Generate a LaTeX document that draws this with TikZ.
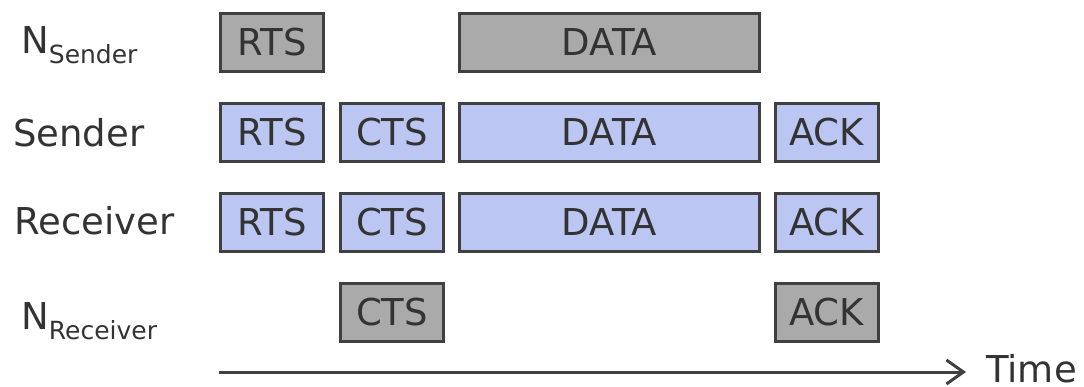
\documentclass[tikz,border=0pt]{standalone}
\usepackage{fontspec}
\setmainfont{DejaVu Sans}
\usetikzlibrary{arrows.meta}
\definecolor{pktblue}{RGB}{188,198,242}
\definecolor{pktgray}{RGB}{170,170,170}
\definecolor{edge}{RGB}{64,64,64}
\definecolor{ink}{RGB}{51,51,51}
\newcommand{\subtxt}[1]{\raisebox{-10pt}{\fontsize{25}{25}\selectfont #1}}
\begin{document}
\begin{tikzpicture}[x=1pt,y=1pt]
	\tikzstyle{every node}+=[inner sep=0pt, text=ink, font=\fontsize{37}{44}\selectfont]
	\tikzstyle{pkt}=[draw=edge, line width=3pt, minimum width=103pt, minimum height=58pt]
	\tikzstyle{blue pkt}=[pkt, fill=pktblue]
	\tikzstyle{gray pkt}=[pkt, fill=pktgray]
	\useasboundingbox (0,0) rectangle (1084,-386);
	% row labels
	\node [anchor=base west] (nsend) at (21,-53) {N\subtxt{Sender}};
	\node [anchor=base west] (send) at (13,-146) {Sender};
	\node [anchor=base west] (recv) at (14,-234) {Receiver};
	\node [anchor=base west] (nrecv) at (21,-329) {N\subtxt{Receiver}};
	% N_Sender
	\node [gray pkt] (nsrts) at (272,-42.5) {RTS};
	\node [gray pkt, minimum width=300pt] (nsdata) at (609.5,-42.5) {DATA};
	% Sender
	\node [blue pkt] (srts) at (272,-132.5) {RTS};
	\node [blue pkt] (scts) at (392,-132.5) {CTS};
	\node [blue pkt, minimum width=300pt] (sdata) at (609.5,-132.5) {DATA};
	\node [blue pkt] (sack) at (826.5,-132.5) {ACK};
	% Receiver
	\node [blue pkt] (rrts) at (272,-222.5) {RTS};
	\node [blue pkt] (rcts) at (392,-222.5) {CTS};
	\node [blue pkt, minimum width=300pt] (rdata) at (609.5,-222.5) {DATA};
	\node [blue pkt] (rack) at (826.5,-222.5) {ACK};
	% N_Receiver
	\node [gray pkt] (nrcts) at (392,-312.5) {CTS};
	\node [gray pkt] (nrack) at (826.5,-312.5) {ACK};
	% time axis
	\coordinate (tstart) at (219,-372);
	\coordinate (tend) at (966,-372);
	\node [anchor=base west] (time) at (986,-382) {Time};
	\draw [edge, line width=3pt, -{Straight Barb[length=17pt,width=24pt,line width=3pt]}] (tstart) -- (tend);
\end{tikzpicture}
\end{document}
